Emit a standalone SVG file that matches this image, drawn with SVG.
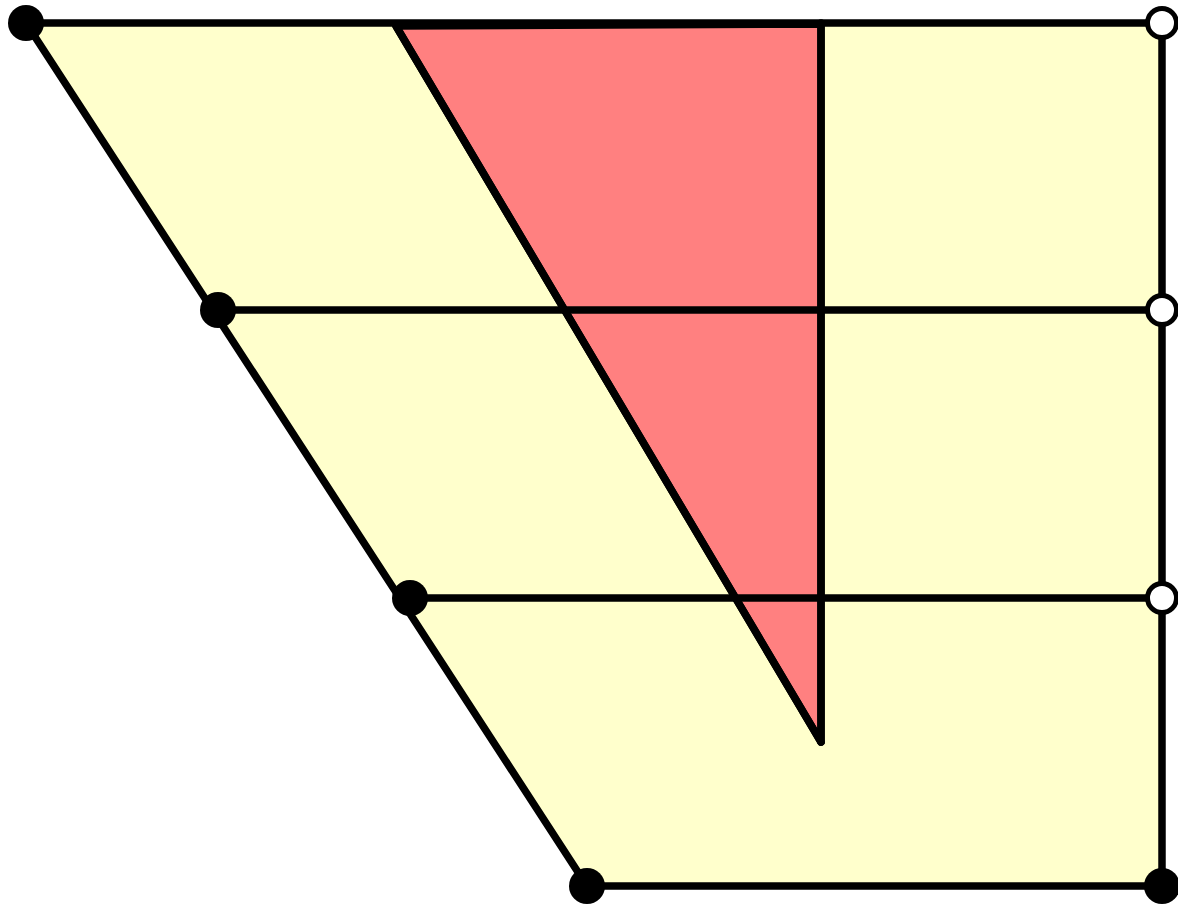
<svg xmlns="http://www.w3.org/2000/svg" width="1178" height="907" viewBox="0 0 1178 907">
<style>
.ln{stroke:#000;stroke-width:7.5;fill:none;stroke-linecap:round;stroke-linejoin:round}
.dot{fill:#000}
.open{fill:#fff;stroke:#000;stroke-width:5}
</style>
<rect width="1178" height="907" fill="#fff"/>
<g id="regions">
<polygon points="26,23 1162,23 1162,886 587,886" fill="#ffffcc"/>
<polygon points="396,26 821,24 821,742" fill="#ff8080" stroke="#000" stroke-width="7.5" stroke-linejoin="round"/>
</g>
<g id="connectors">
<line class="ln" x1="26" y1="23" x2="1162" y2="23"/>
<line class="ln" x1="218" y1="310" x2="1162" y2="310"/>
<line class="ln" x1="410" y1="598" x2="1162" y2="598"/>
<line class="ln" x1="587" y1="886" x2="1162" y2="886"/>
<line class="ln" x1="1162" y1="23" x2="1162" y2="886"/>
<line class="ln" x1="26" y1="23" x2="587" y2="886"/>
<line class="ln" x1="396" y1="26" x2="821" y2="742"/>
<line class="ln" x1="821" y1="23" x2="821" y2="742"/>
</g>
<g id="n1"><circle class="dot" cx="26" cy="23" r="18"/></g>
<g id="n2"><circle class="dot" cx="218" cy="310" r="18"/></g>
<g id="n3"><circle class="dot" cx="410" cy="598" r="18"/></g>
<g id="n4"><circle class="dot" cx="587" cy="886" r="18"/></g>
<g id="n5"><circle class="dot" cx="1162" cy="886" r="18"/></g>
<g id="n6"><circle class="open" cx="1162" cy="23" r="14.5"/></g>
<g id="n7"><circle class="open" cx="1162" cy="310" r="14.5"/></g>
<g id="n8"><circle class="open" cx="1162" cy="598" r="14.5"/></g>
</svg>
